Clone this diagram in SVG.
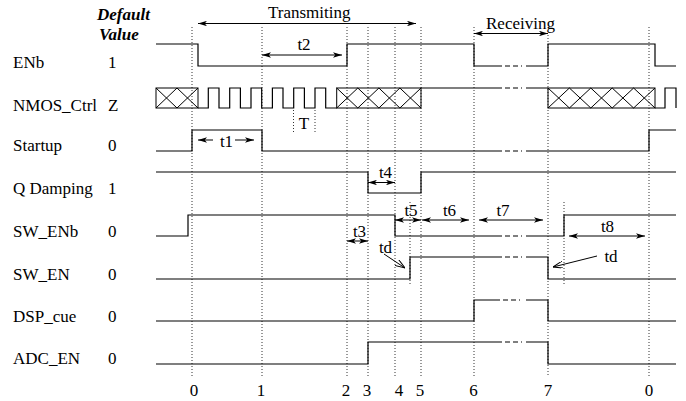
<svg xmlns="http://www.w3.org/2000/svg" width="686" height="401" viewBox="0 0 686 401">
<defs>
<style>
text{font-family:"Liberation Serif","Times New Roman",serif;font-size:17px;fill:#000}
.hdr{font-weight:bold;font-style:italic}
.mid{text-anchor:middle}
.sig{fill:none;stroke:#000;stroke-width:1.2}
.brk{fill:none;stroke:#000;stroke-width:1.2;stroke-dasharray:0 3 5 3 5 3 1 4}
.grid{fill:none;stroke:#333;stroke-width:1;stroke-dasharray:1 2}
.arr{fill:none;stroke:#000;stroke-width:1;marker-start:url(#ah);marker-end:url(#ah)}
.arr1{fill:none;stroke:#000;stroke-width:1;marker-end:url(#ah)}
.tdarr{fill:none;stroke:#000;stroke-width:1;marker-end:url(#oh)}
.hatch{fill:none;stroke:#000;stroke-width:1}
</style>
<marker id="ah" viewBox="0 0 10 6" refX="10" refY="3" markerWidth="9" markerHeight="5.4" markerUnits="userSpaceOnUse" orient="auto-start-reverse">
<path d="M0,0 L10,3 L0,6 L2.5,3 z" fill="#000"/>
</marker>
<marker id="oh" viewBox="0 0 10 7" refX="10" refY="3.5" markerWidth="10" markerHeight="7" markerUnits="userSpaceOnUse" orient="auto">
<path d="M0,0 L10,3.5 L0,7" fill="none" stroke="#000" stroke-width="1"/>
</marker>
</defs>
<rect width="686" height="401" fill="#fff"/>

<g id="header">
<text class="hdr" x="97" y="20">Default</text>
<text class="hdr" x="99" y="40">Value</text>
</g>

<g id="grid">
<path class="grid" d="M192,27 V377 M262,27 V377 M347,27 V377 M368,27 V377 M395,27 V377 M421,27 V377 M474,27 V377 M548,35 V377 M649,27 V377"/>
<path class="grid" d="M293.5,110 V132 M315,110 V132 M410,202 V286 M564,202 V286"/>
</g>

<g id="ENb">
<text x="13" y="68">ENb</text><text x="108" y="68">1</text>
<path class="sig" d="M156,44 H198 V66 H347 V44 H474 V66 H502 M526,66 H548 V44 H655 V66 H676"/>
<path class="brk" d="M502,66 H526"/>
</g>

<g id="NMOS_Ctrl">
<text x="13" y="111">NMOS_Ctrl</text><text x="108" y="111">Z</text>
<path class="sig" d="M198,108 H208.3 V88 H219 V108 H229.7 V88 H240.4 V108 H251 V88 H261.7 V108 H272.4 V88 H283 V108 H293.7 V88 H304.4 V108 H315 V88 H325.7 V108 H336.7 M421,88 H502 M526,88 H548 M655,108 H665 V88 H676 V108"/>
<path class="brk" d="M502,88 H526"/>
<rect class="hatch" x="156" y="88" width="42" height="20"/>
<path class="hatch" d="M156,88 L177,108 M156,108 L177,88 M177,88 L198,108 M177,108 L198,88"/>
<rect class="hatch" x="336.7" y="88" width="84.3" height="20"/>
<path class="hatch" d="M336.7,88 L357.8,108 M336.7,108 L357.8,88 M357.8,88 L378.9,108 M357.8,108 L378.9,88 M378.9,88 L399.9,108 M378.9,108 L399.9,88 M399.9,88 L421,108 M399.9,108 L421,88"/>
<rect class="hatch" x="548" y="88" width="107" height="20"/>
<path class="hatch" d="M548,88 L569.4,108 M548,108 L569.4,88 M569.4,88 L590.8,108 M569.4,108 L590.8,88 M590.8,88 L612.2,108 M590.8,108 L612.2,88 M612.2,88 L633.6,108 M612.2,108 L633.6,88 M633.6,88 L655,108 M633.6,108 L655,88"/>
<text class="mid" x="304" y="129">T</text>
</g>

<g id="Startup">
<text x="13" y="151">Startup</text><text x="108" y="151">0</text>
<path class="sig" d="M156,151 H192 V130 H262 V151 H502 M526,151 H649 V130 H676"/>
<path class="brk" d="M502,151 H526"/>
</g>

<g id="Q_Damping">
<text x="13" y="193.5">Q Damping</text><text x="108" y="193.5">1</text>
<path class="sig" d="M156,172 H368 V193 H421 V172 H676"/>
</g>

<g id="SW_ENb">
<text x="13" y="237">SW_ENb</text><text x="108" y="237">0</text>
<path class="sig" d="M156,236 H188 V215 H395 V236 H502 M526,236 H564 V215 H676"/>
<path class="brk" d="M502,236 H526"/>
</g>

<g id="SW_EN">
<text x="13" y="279.5">SW_EN</text><text x="108" y="279.5">0</text>
<path class="sig" d="M156,279 H410 V257 H502 M526,257 H548 V279 H676"/>
<path class="brk" d="M502,257 H526"/>
</g>

<g id="DSP_cue">
<text x="13" y="321.5">DSP_cue</text><text x="108" y="321.5">0</text>
<path class="sig" d="M156,321 H474 V300 H500 M526,300 H548 V321 H676"/>
<path class="brk" d="M500,300 H526"/>
</g>

<g id="ADC_EN">
<text x="13" y="364">ADC_EN</text><text x="108" y="364">0</text>
<path class="sig" d="M156,364 H368 V342 H502 M526,342 H548 V364 H676"/>
<path class="brk" d="M502,342 H526"/>
</g>

<g id="axis">
<text class="mid" x="194" y="395.5">0</text>
<text class="mid" x="261" y="395.5">1</text>
<text class="mid" x="346" y="395.5">2</text>
<text class="mid" x="367" y="395.5">3</text>
<text class="mid" x="399" y="395.5">4</text>
<text class="mid" x="420" y="395.5">5</text>
<text class="mid" x="473.5" y="395.5">6</text>
<text class="mid" x="548" y="395.5">7</text>
<text class="mid" x="649" y="395.5">0</text>
</g>

<g id="connectors">
<line class="arr" x1="198" y1="23.5" x2="416" y2="23.5"/>
<text x="268" y="18">Transmiting</text>
<line class="arr" x1="474" y1="33.5" x2="548" y2="33.5"/>
<text x="486" y="28.5">Receiving</text>
<line class="arr" x1="262" y1="55" x2="342" y2="55"/>
<text class="mid" x="304" y="50">t2</text>
<line class="arr1" x1="213" y1="140" x2="198" y2="140"/>
<line class="arr1" x1="235" y1="140" x2="254" y2="140"/>
<text class="mid" x="226.5" y="146.5">t1</text>
<line class="arr" x1="368" y1="182.5" x2="395" y2="182.5"/>
<text class="mid" x="385.5" y="178">t4</text>
<line class="arr" x1="395" y1="220" x2="421" y2="220"/>
<text class="mid" x="411" y="215.5">t5</text>
<line class="arr" x1="422" y1="220" x2="469" y2="220"/>
<text class="mid" x="449.5" y="215.5">t6</text>
<line class="arr" x1="479" y1="220" x2="543" y2="220"/>
<text class="mid" x="503" y="215.5">t7</text>
<line class="arr" x1="569" y1="236" x2="645" y2="236"/>
<text class="mid" x="607.5" y="231.5">t8</text>
<line class="arr" x1="347" y1="241" x2="368" y2="241"/>
<text class="mid" x="359.5" y="236.5">t3</text>
<line class="tdarr" x1="384" y1="254" x2="405" y2="268"/>
<text class="mid" x="385.5" y="253">td</text>
<line class="tdarr" x1="597" y1="256" x2="553" y2="267"/>
<text class="mid" x="611" y="261.5">td</text>
</g>
</svg>
